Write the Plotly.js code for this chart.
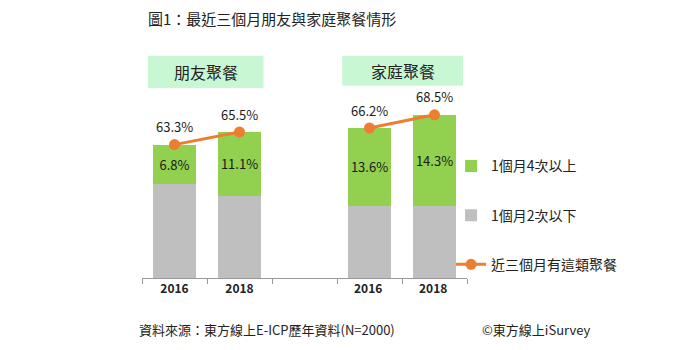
<!DOCTYPE html>
<html>
<head>
<meta charset="utf-8">
<script src="https://cdn.plot.ly/plotly-3.0.1.min.js"></script>
<style>html,body{margin:0;padding:0;background:#fff;}#chart{width:700px;height:350px;}</style>
</head>
<body>
<div id="chart"></div>
<script>
// ---- data ----
const categories = ["2016", "2018", " ", "2016 ", "2018 "];
const grayVals = [56.5, 54.4, null, 52.6, 52.5];
const greenVals = [6.8, 11.1, null, 13.6, 16.0];
const greenLabels = ["6.8%", "11.1%", "", "13.6%", "14.3%"];
const totalVals = [63.3, 65.5, null, 66.2, 68.5];
const totalLabels = ["63.3%", "65.5%", "", "66.2%", "68.5%"];
const groupNames = ["朋友聚餐", "家庭聚餐"];
const seriesNames = ["1個月2次以下", "1個月4次以上", "近三個月有這類聚餐"];
const titleText = "圖1：最近三個月朋友與家庭聚餐情形";
const sourceText = "資料來源：東方線上E-ICP歷年資料(N=2000)";
const creditText = "©東方線上iSurvey";

const FONT = "'Noto Sans CJK TC', 'Noto Sans', sans-serif";
const GREEN = "#92d050", GRAY = "#bfbfbf", ORANGE = "#ed7d31", MINT = "#c8f7d4";

const traces = [
  {type: "bar", x: categories, y: grayVals, name: seriesNames[0], marker: {color: GRAY},
   width: 0.66, legendrank: 2, legendgroup: "g2", hoverinfo: "skip"},
  {type: "bar", x: categories, y: greenVals, name: seriesNames[1], marker: {color: GREEN},
   width: 0.66, text: greenLabels, textposition: "inside", insidetextanchor: "middle",
   textangle: 0, textfont: {size: 13, color: "#1a1a1a", family: FONT}, constraintext: "none",
   legendrank: 1, legendgroup: "g1", hoverinfo: "skip"},
  {type: "scatter", mode: "lines+markers", x: categories, y: totalVals, name: seriesNames[2],
   connectgaps: false, line: {color: ORANGE, width: 3}, marker: {color: ORANGE, size: 11},
   legendrank: 3, legendgroup: "g3", hoverinfo: "skip"}
];

const annotations = [];
totalVals.forEach((v, i) => {
  if (v !== null) {
    annotations.push({x: i, y: v, xref: "x", yref: "y", text: totalLabels[i],
      showarrow: false, xanchor: "center", yanchor: "middle", yshift: 18,
      font: {size: 13, color: "#1a1a1a", family: FONT}});
  }
});
// group header boxes
const headerBoxes = [
  {x0: -0.41, x1: 1.37, y0: 73.2, y1: 78.8},
  {x0: 2.58, x1: 4.44, y0: 73.6, y1: 78.8}
];
const shapes = headerBoxes.map(b => ({type: "rect", xref: "x", yref: "y", x0: b.x0, x1: b.x1,
  y0: b.y0, y1: b.y1, fillcolor: MINT, line: {width: 0}, layer: "below"}));
headerBoxes.forEach((b, i) => {
  annotations.push({x: (b.x0 + b.x1) / 2, y: (b.y0 + b.y1) / 2, xref: "x", yref: "y",
    text: groupNames[i], showarrow: false, font: {size: 16, color: "#222", family: FONT}});
});

const W = 700, H = 350, ML = 142, MR = 233, MT = 49, MB = 72;
const pw = W - ML - MR, ph = H - MT - MB;
[[137, sourceText], [480, creditText]].forEach(([px, t]) => {
  annotations.push({x: (px - ML) / pw, y: (H - MB - 329) / ph, xref: "paper", yref: "paper",
    text: t, showarrow: false, xanchor: "left", yanchor: "middle",
    font: {size: 13, color: "#222", family: FONT}});
});

const layout = {
  width: W, height: H,
  margin: {l: ML, r: MR, t: MT, b: MB},
  paper_bgcolor: "#fff", plot_bgcolor: "#fff",
  font: {family: FONT, color: "#222"},
  barmode: "stack",
  showlegend: true,
  title: {text: titleText, x: 148 / W, xanchor: "left", xref: "container",
          y: 1 - 20 / H, yanchor: "middle", yref: "container",
          font: {size: 15, color: "#222", family: FONT}},
  xaxis: {type: "category", categoryorder: "array", categoryarray: categories,
          range: [-0.5, 4.5], tickson: "boundaries", ticks: "outside", ticklen: 5,
          tickcolor: "#999", showline: true, linecolor: "#999", linewidth: 1,
          showgrid: false, zeroline: false, fixedrange: true,
          tickfont: {size: 12, color: "#222", family: FONT, weight: "bold"}},
  yaxis: {range: [40, 80], visible: false, showgrid: false, zeroline: false, fixedrange: true},
  legend: {x: 0.951, xanchor: "left", y: 0.5575, yanchor: "top", traceorder: "grouped",
           tracegroupgap: 28, font: {size: 14, color: "#222", family: FONT},
           bgcolor: "rgba(0,0,0,0)"},
  shapes: shapes,
  annotations: annotations
};

Plotly.newPlot("chart", traces, layout, {staticPlot: true, displayModeBar: false});
</script>
</body>
</html>
